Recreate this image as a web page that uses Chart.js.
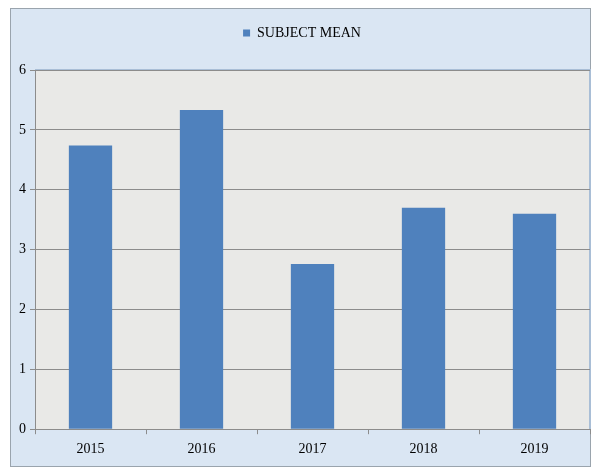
<!DOCTYPE html>
<html>
<head>
<meta charset="utf-8">
<script src="https://cdn.jsdelivr.net/npm/chart.js@4"></script>
<style>
  html, body { margin: 0; padding: 0; background: #fff; }
  #wrap { width: 602px; height: 471px; }
</style>
</head>
<body>
<div id="wrap"><canvas id="chart" width="602" height="471"></canvas></div>
<script>
// data
const years = ["2015", "2016", "2017", "2018", "2019"];
const subjectMean = [4.74, 5.33, 2.76, 3.70, 3.60];
const yTicks = [0, 1, 2, 3, 4, 5, 6];

const serif = "'Liberation Serif', 'Times New Roman', serif";

// backgrounds: outer light blue frame + grey plot area
const panels = {
  id: "panels",
  beforeLayout(chart) {
    // leave more room under the legend
    const lg = chart.legend;
    if (lg && !lg._padded) {
      const fit = lg.fit.bind(lg);
      lg.fit = function () { fit(); this.height += 20; };
      lg._padded = true;
    }
  },
  beforeDraw(chart) {
    const c = chart.ctx;
    const a = chart.chartArea;
    c.save();
    c.fillStyle = "#dae6f3";
    c.fillRect(10, 8, 581, 459);
    c.strokeStyle = "#9aa4ad";
    c.lineWidth = 1;
    c.strokeRect(10.5, 8.5, 580, 458);
    c.fillStyle = "#e9e9e7";
    c.fillRect(a.left, a.top, a.right - a.left, a.bottom - a.top);
    c.strokeStyle = "#a9bed6";
    c.lineWidth = 2;
    c.beginPath();
    c.moveTo(a.left, a.top);
    c.lineTo(a.right, a.top);
    c.lineTo(a.right, a.bottom);
    c.stroke();
    c.restore();
  }
};

new Chart(document.getElementById("chart"), {
  type: "bar",
  data: {
    labels: years,
    datasets: [{
      label: "SUBJECT MEAN",
      data: subjectMean,
      backgroundColor: "#4f81bd",
      barPercentage: 0.39,
      categoryPercentage: 1
    }]
  },
  options: {
    responsive: false,
    animation: false,
    layout: { padding: { left: 14, right: 12, top: 12, bottom: 6 } },
    plugins: {
      tooltip: { enabled: false },
      legend: {
        position: "top",
        labels: {
          color: "#000",
          font: { family: serif, size: 14 },
          boxWidth: 7,
          boxHeight: 7,
          padding: 14
        }
      }
    },
    scales: {
      x: {
        grid: { drawOnChartArea: false, drawTicks: true, tickLength: 5, offset: true, color: "#8c8c8c" },
        border: { color: "#8c8c8c" },
        ticks: { color: "#000", font: { family: serif, size: 14 }, padding: 7 }
      },
      y: {
        min: 0,
        max: 6,
        afterBuildTicks: s => { s.ticks = yTicks.map(v => ({ value: v })); },
        afterFit: s => { s.width = 21; },
        grid: { color: "#8c8c8c", tickLength: 5 },
        border: { color: "#8c8c8c" },
        ticks: { color: "#000", font: { family: serif, size: 14 }, padding: 4 }
      }
    }
  },
  plugins: [panels]
});
</script>
</body>
</html>
